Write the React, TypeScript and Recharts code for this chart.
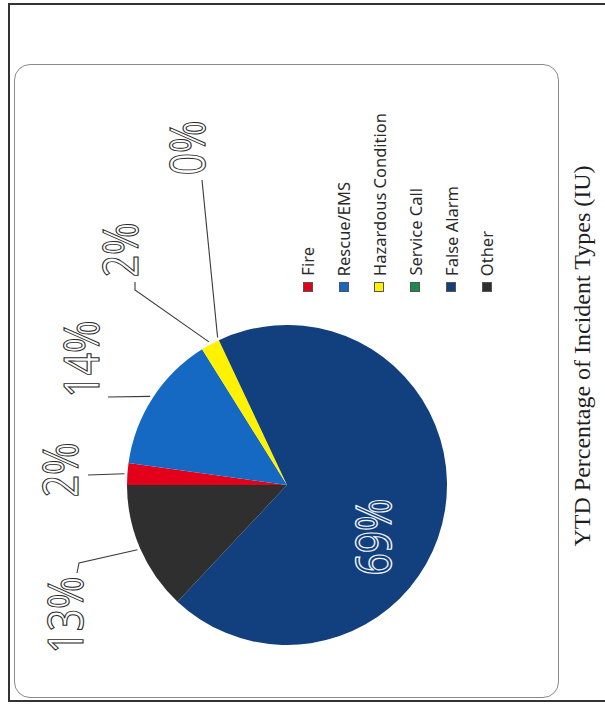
import React from 'react';
import { PieChart, Pie, Cell, Legend } from 'recharts';

// values (percent of YTD incidents)
const categories = ['Fire', 'Rescue/EMS', 'Hazardous Condition', 'Service Call', 'False Alarm', 'Other'];
const shares = [2.2, 13.9, 1.9, 0, 69.0, 13.0];
const sliceColors = ['#e2001a', '#1569c2', '#fff200', '#1b8a4c', '#123f7e', '#2f2f2f'];

const chartTitle = 'YTD Percentage of Incident Types (IU)';

const data = categories.map((name, i) => ({ name, value: shares[i] }));

// where each data label sits, relative to the pie centre (the whole chart is printed sideways)
const labelSpots = [
  { text: [-228, -15], path: [[-199, -10]] },
  { text: [-207, -126], path: [[-179, -88]] },
  { text: [-168, -235], path: [[-152, -195], [-152, -203]] },
  { text: [-101, -337], path: [[-85, -305]] },
  { text: [85, 52], path: [] },
  { text: [-223, 130], path: [[-208, 78], [-210, 88]] },
];

const RAD = Math.PI / 180;

const renderLabel = (props: any) => {
  const { cx, cy, midAngle, outerRadius, percent, index } = props;
  const spot = labelSpots[index];
  const inside = spot.path.length === 0;
  const a = midAngle * RAD;
  const ax = cx + (outerRadius + 3) * Math.cos(a);
  const ay = cy - (outerRadius + 3) * Math.sin(a);
  const pts = [[ax, ay], ...spot.path.map(([dx, dy]) => [cx + dx, cy + dy])];
  const tx = cx + spot.text[0];
  const ty = cy + spot.text[1];
  return (
    <g key={`lbl-${index}`}>
      {!inside && (
        <polyline
          points={pts.map(p => p.join(',')).join(' ')}
          fill="none"
          stroke="#3a3a3a"
          strokeWidth={1.1}
        />
      )}
      <text
        transform={`translate(${tx},${ty}) rotate(-90) scale(1,1.25)`}
        x={0}
        y={0}
        textAnchor="middle"
        dominantBaseline="central"
        fontFamily="'Noto Sans', sans-serif"
        fontSize={39}
        fill={inside ? '#123f7e' : '#ffffff'}
        stroke={inside ? '#f4f6fa' : '#2b2b2b'}
        strokeWidth={inside ? 1.1 : 0.9}
      >
        {`${Math.round(percent * 100)}%`}
      </text>
    </g>
  );
};

const SideLegend = () => (
  <div
    style={{
      position: 'absolute',
      left: 290,
      top: 80,
      height: 212,
      display: 'flex',
    }}
  >
    {categories.map((name, i) => (
      <div
        key={name}
        style={{
          width: 35.8,
          display: 'flex',
          flexDirection: 'column',
          justifyContent: 'flex-end',
          alignItems: 'center',
        }}
      >
        <span
          style={{
            writingMode: 'vertical-rl',
            transform: 'rotate(180deg)',
            fontFamily: "'Noto Sans', sans-serif",
            fontSize: 16.5,
            color: '#2a2a2a',
            whiteSpace: 'nowrap',
            lineHeight: '19px',
          }}
        >
          {name}
        </span>
        <div style={{ width: 10, height: 10, marginTop: 6, background: sliceColors[i], border: '1px solid #555', boxSizing: 'border-box' }} />
      </div>
    ))}
  </div>
);

export default function App() {
  return (
    <div style={{ position: 'fixed', left: 0, top: 0, width: 605, height: 706, background: '#fff', overflow: 'hidden' }}>
      {/* scanned page frame */}
      <div style={{ position: 'absolute', left: 8, top: 3, width: 620, height: 699, border: '2px solid #333', boxSizing: 'border-box' }} />
      {/* chart area */}
      <div style={{ position: 'absolute', left: 14, top: 64, width: 545, height: 634, border: '1px solid #8a8a8a', borderRadius: 16, boxSizing: 'border-box' }} />
      <div style={{ position: 'absolute', left: 0, top: 0 }}>
        <PieChart width={605} height={706} margin={{ top: 0, right: 0, bottom: 0, left: 0 }}>
          <Pie
            data={data}
            dataKey="value"
            nameKey="name"
            cx={287}
            cy={485}
            outerRadius={160}
            startAngle={180}
            endAngle={-180}
            stroke="none"
            label={renderLabel}
            labelLine={false}
            isAnimationActive={false}
          >
            {data.map((d, i) => (
              <Cell key={d.name} fill={sliceColors[i]} />
            ))}
          </Pie>
          <Legend content={() => null} />
        </PieChart>
      </div>
      <SideLegend />
      <div
        style={{
          position: 'absolute',
          left: 582,
          top: 356,
          transform: 'translate(-50%, -50%) rotate(-90deg)',
          whiteSpace: 'nowrap',
          fontFamily: "'Liberation Serif', serif",
          fontSize: 24,
          color: '#1e1e1e',
        }}
      >
        {chartTitle}
      </div>
    </div>
  );
}
